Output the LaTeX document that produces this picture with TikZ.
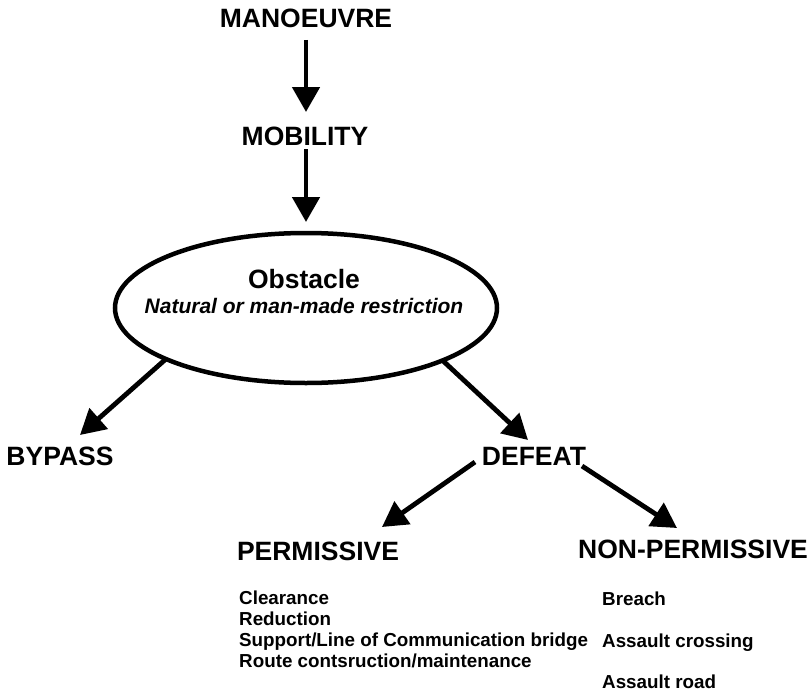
\documentclass[tikz,border=0pt]{standalone}
\usepackage{fontspec}
\setmainfont{Liberation Sans}
\usetikzlibrary{arrows.meta,shapes.geometric,calc}
\begin{document}
\begin{tikzpicture}[x=1pt,y=-1pt,
  big/.style={font=\fontsize{26.5}{30}\selectfont\bfseries, inner sep=0pt, anchor=base},
  sub/.style={font=\fontsize{21}{25}\selectfont\bfseries\itshape, inner sep=0pt, anchor=base},
  item/.style={font=\fontsize{18.8}{22}\selectfont\bfseries, inner sep=0pt, anchor=base west},
  arr/.style={line width=4.8pt, -{Triangle[length=25pt,width=27pt]}},
]
\fill[white] (0,0) rectangle (810,693);
\useasboundingbox (0,0) rectangle (810,693);

% headings
\node[big] (man) at (306,28) {MANOEUVRE};
\node[big] (mob) at (305,145) {MOBILITY};
\node[draw, ellipse, line width=4.5pt, outer sep=0pt, inner sep=0pt,
      minimum width=382pt, minimum height=150pt] (obs) at (306,308) {};
\node[big] (obst) at (304,288) {Obstacle};
\node[sub] (obsd) at (304,313) {Natural or man-made restriction};
\node[big] (bypass) at (60,465) {BYPASS};
\node[big] (defeat) at (534,465) {DEFEAT};
\node[big] (perm) at (318,560) {PERMISSIVE};
\node[big] (nonperm) at (693,558) {NON-PERMISSIVE};

% permissive tasks
\node[item] (l1) at (239,604) {Clearance};
\node[item] (l2) at (239,625) {Reduction};
\node[item] (l3) at (239,646) {Support/Line of Communication bridge};
\node[item] (l4) at (239,667) {Route contsruction/maintenance};

% non-permissive tasks
\node[item] (r1) at (602,605) {Breach};
\node[item] (r2) at (602,647) {Assault crossing};
\node[item] (r3) at (602,688) {Assault road};

% connectors
\draw[arr] ($(man.base)+(0,12)$) -- ($(mob.base)+(1,-33)$);
\draw[arr] ($(mob.base)+(1,4)$) -- ($(obs.north)+(0,-11)$);
\draw[arr] (obs.200) -- ($(bypass.base)+(20,-30)$);
\draw[arr] (obs.339) -- ($(defeat.base)+(-6,-25)$);
\draw[arr] ($(defeat.base)+(-59,-3)$) -- ($(perm.base)+(64,-33)$);
\draw[arr] ($(defeat.base)+(48,1)$) -- ($(nonperm.base)+(-16,-30)$);
\end{tikzpicture}
\end{document}
